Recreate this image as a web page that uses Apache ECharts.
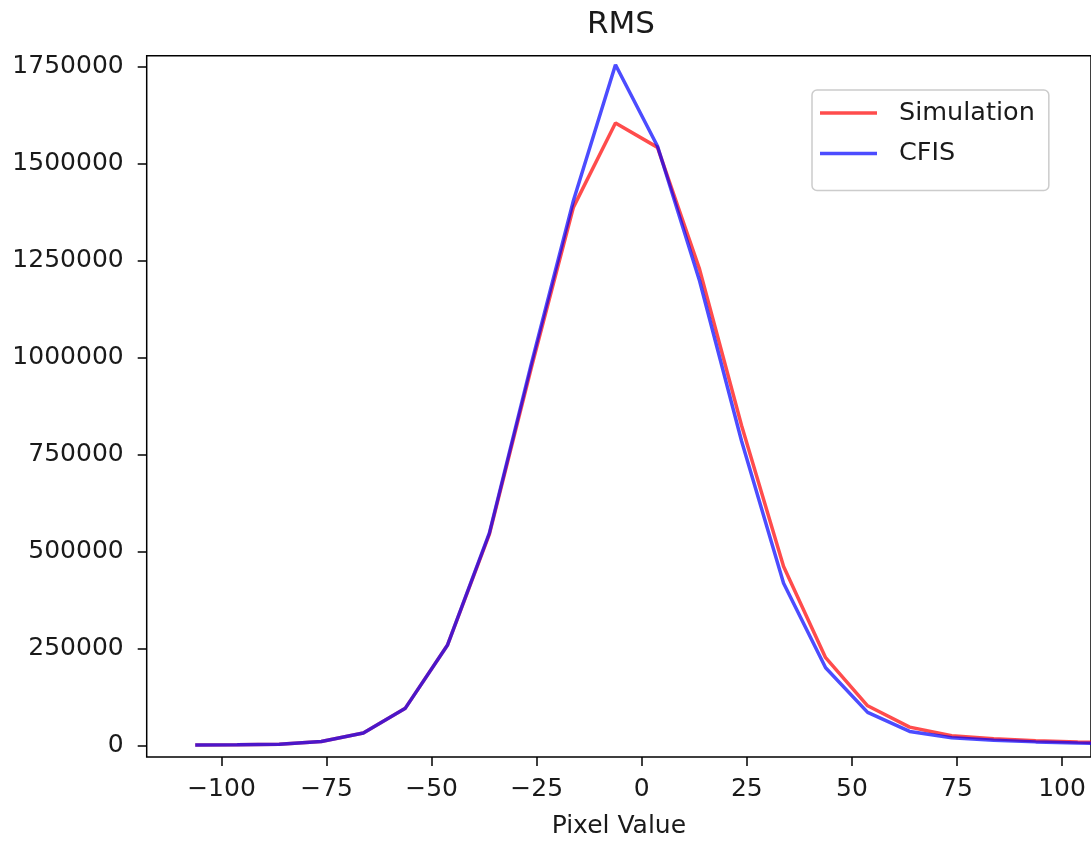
<!DOCTYPE html>
<html>
<head>
<meta charset="utf-8">
<script src="https://cdn.jsdelivr.net/npm/echarts@6/dist/echarts.min.js"></script>
<style>
html,body{margin:0;padding:0;background:#fff;}
#chart{width:1091px;height:844px;}
</style>
</head>
<body>
<div id="chart"></div>
<script>
const pixelValues = [-106.25, -96.25, -86.25, -76.25, -66.25, -56.25, -46.25, -36.25, -26.25, -16.25, -6.25, 3.75, 13.75, 23.75, 33.75, 43.75, 53.75, 63.75, 73.75, 83.75, 93.75, 103.75, 113.75];
const simulation = [1000, 1500, 3000, 10000, 32000, 96000, 258000, 545000, 975000, 1388000, 1605000, 1542000, 1228000, 825000, 461000, 226000, 102000, 47000, 25000, 17000, 12000, 8500, 6000];
const cfis = [1000, 1500, 3000, 10000, 32000, 96000, 258000, 548000, 985000, 1405000, 1755000, 1545000, 1198000, 785000, 418000, 200000, 85000, 36000, 19500, 13000, 9000, 6000, 4500];
const xTicks = [-100, -75, -50, -25, 0, 25, 50, 75, 100];
const yTicks = [0, 250000, 500000, 750000, 1000000, 1250000, 1500000, 1750000];

const FONT = 'DejaVu Sans';
const TXT = '#1a1a1a';
const LEGEND_ICON = 'path://M0,0H57V3.5H0Z';

const chart = echarts.init(document.getElementById('chart'), null, {renderer: 'canvas'});
chart.setOption({
  animation: false,
  backgroundColor: '#ffffff',
  title: {
    text: 'RMS',
    left: 621,
    top: 9,
    padding: 0,
    textAlign: 'center',
    textStyle: {fontFamily: FONT, fontSize: 31, fontWeight: 'normal', color: TXT}
  },
  grid: {
    left: 146.7, top: 55.7, width: 948.6, height: 706,
    show: true, borderColor: '#000', borderWidth: 1.5, backgroundColor: 'transparent'
  },
  legend: {
    orient: 'vertical',
    left: 812, top: 90,
    padding: [10, 14, 24, 8],
    itemWidth: 57, itemHeight: 14, itemGap: 14.4,
    backgroundColor: 'rgba(255,255,255,0.8)',
    borderColor: '#cccccc', borderWidth: 1.5, borderRadius: 5,
    textStyle: {fontFamily: FONT, fontSize: 25.5, color: TXT, padding: [0, 0, 0, 17]},
    data: [
      {name: 'Simulation', icon: LEGEND_ICON},
      {name: 'CFIS', icon: LEGEND_ICON}
    ]
  },
  xAxis: {
    type: 'value',
    min: -117.8, max: 106.9,
    name: 'Pixel Value',
    nameLocation: 'middle',
    nameGap: 57,
    nameTextStyle: {fontFamily: FONT, fontSize: 25, color: TXT},
    axisLine: {show: false, onZero: false},
    axisTick: {show: true, length: 9, lineStyle: {color: '#000', width: 1.5}, customValues: xTicks},
    axisLabel: {
      fontFamily: FONT, fontSize: 25, color: TXT, margin: 20,
      customValues: xTicks,
      formatter: v => String(v).replace('-', '\u2212')
    },
    splitLine: {show: false}
  },
  yAxis: {
    type: 'value',
    min: -30000, max: 1778400,
    axisLine: {show: false, onZero: false},
    axisTick: {show: true, length: 9, lineStyle: {color: '#000', width: 1.5}, customValues: yTicks},
    axisLabel: {
      fontFamily: FONT, fontSize: 25, color: TXT, margin: 23,
      customValues: yTicks,
      formatter: v => String(v)
    },
    splitLine: {show: false}
  },
  series: [
    {
      name: 'Simulation', type: 'line', symbol: 'none', clip: true,
      lineStyle: {color: 'rgba(255,0,0,0.7)', width: 3.5},
      itemStyle: {color: 'rgba(255,0,0,0.7)'},
      data: pixelValues.map((x, i) => [x, simulation[i]])
    },
    {
      name: 'CFIS', type: 'line', symbol: 'none', clip: true,
      lineStyle: {color: 'rgba(0,0,255,0.7)', width: 3.5},
      itemStyle: {color: 'rgba(0,0,255,0.7)'},
      data: pixelValues.map((x, i) => [x, cfis[i]])
    }
  ]
});
</script>
</body>
</html>
